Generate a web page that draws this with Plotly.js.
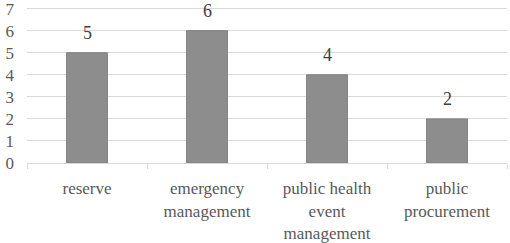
<!DOCTYPE html>
<html>
<head>
<meta charset="utf-8">
<script src="https://cdn.plot.ly/plotly-3.0.1.min.js"></script>
<style>html,body{margin:0;padding:0;background:#fff;}#chart{width:510px;height:243px;}</style>
</head>
<body>
<div id="chart"></div>
<script>
const categories = ["reserve", "emergency<br>management", "public health<br>event<br>management", "public<br>procurement"];
const values = [5, 6, 4, 2];
const yTicks = [0, 1, 2, 3, 4, 5, 6, 7];

const serif = "Liberation Serif, Times New Roman, serif";
const font = {family: serif, size: 16, color: "#595959"};

const trace = {
  type: "bar",
  x: categories,
  y: values,
  marker: {color: "#8d8d8d", line: {color: "#7f7f7f", width: 1}},
  hoverinfo: "none"
};

const annotations = categories.map((c, i) => ({
  x: c, y: values[i], xref: "x", yref: "y",
  text: String(values[i]), showarrow: false,
  yanchor: "bottom", yshift: 8,
  font: {family: serif, size: 18, color: "#404040"}
}));

const layout = {
  width: 510, height: 243,
  margin: {l: 27, r: 3, t: 2, b: 80},
  paper_bgcolor: "#fff", plot_bgcolor: "#fff",
  font: font,
  bargap: 0.66,
  showlegend: false,
  xaxis: {
    type: "category",
    showgrid: false,
    showline: true, linecolor: "#d9d9d9", linewidth: 1,
    ticks: "outside", tickson: "boundaries", ticklen: 5, tickcolor: "#d9d9d9",
    ticklabelstandoff: 10,
    tickfont: {family: serif, size: 17, color: "#595959"},
    fixedrange: true
  },
  yaxis: {
    range: [0, 7.3],
    tickvals: yTicks,
    showgrid: true, gridcolor: "#d9d9d9", gridwidth: 1,
    zeroline: false, showline: false,
    ticks: "",
    ticklabelstandoff: 12,
    ticklabeloverflow: "allow",
    tickfont: {family: serif, size: 17, color: "#595959"},
    fixedrange: true
  },
  annotations: annotations
};

Plotly.newPlot("chart", [trace], layout, {displayModeBar: false, staticPlot: true});
</script>
</body>
</html>
